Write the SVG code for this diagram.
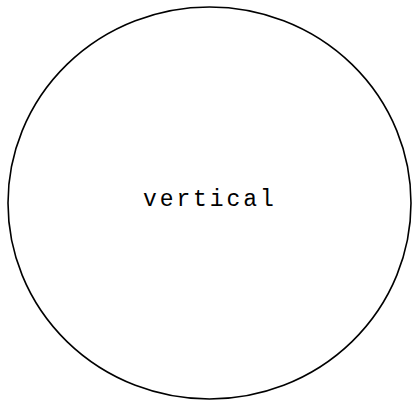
<svg xmlns="http://www.w3.org/2000/svg" width="418" height="402" viewBox="0 0 418 402">
<style>
.n{fill:none;stroke:#000;stroke-width:1.6}
.t{font-family:"Liberation Mono","DejaVu Sans Mono",monospace;font-size:23px;letter-spacing:2.9px;fill:#000}
</style>
<rect width="418" height="402" fill="#fff"/>
<g id="node-vertical">
<ellipse class="n" cx="209.5" cy="203" rx="201.5" ry="196"/>
<text class="t" x="143" y="206">vertical</text>
</g>
<g id="connectors"/>
</svg>
